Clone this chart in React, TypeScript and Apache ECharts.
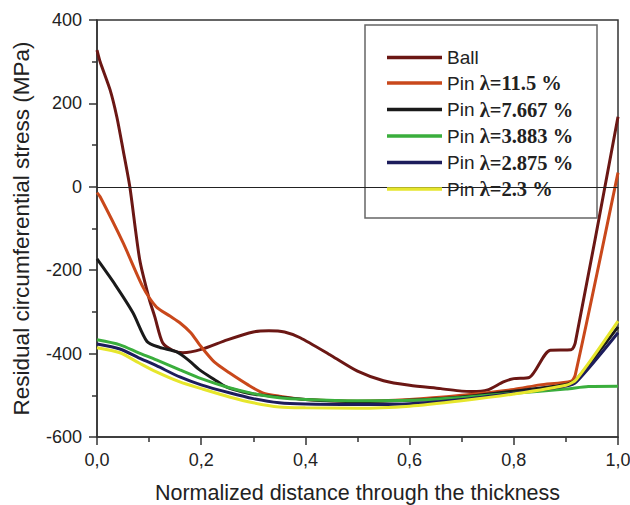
import React, { useEffect, useRef } from "react";
import * as echarts from "echarts";

const seriesNames = [
  "Ball",
  "Pin λ=11.5 %",
  "Pin λ=7.667 %",
  "Pin λ=3.883 %",
  "Pin λ=2.875 %",
  "Pin λ=2.3 %",
];

const seriesColors = ["#6b1714", "#c9481b", "#1a1a1a", "#3aae3c", "#1d1d5c", "#e6e62c"];

const ball: number[][] = [
  [0, 328], [0.006, 300], [0.025, 233], [0.038, 168], [0.05, 89], [0.063, 0],
  [0.082, -175], [0.1, -268], [0.111, -312], [0.126, -374], [0.145, -392],
  [0.165, -398], [0.2, -390], [0.25, -367], [0.3, -348], [0.33, -345],
  [0.36, -348], [0.39, -362], [0.45, -405], [0.5, -442], [0.55, -465],
  [0.6, -476], [0.66, -484], [0.7, -490], [0.72, -491], [0.75, -487],
  [0.78, -468], [0.8, -460], [0.83, -457], [0.87, -392], [0.91, -391],
  [0.918, -374], [1.0, 168],
];

const pin115: number[][] = [
  [0, -14], [0.006, -24], [0.05, -134], [0.088, -240], [0.114, -288],
  [0.14, -310], [0.159, -326], [0.18, -350], [0.197, -379], [0.225, -420],
  [0.254, -446], [0.29, -475], [0.318, -494], [0.35, -502], [0.4, -510],
  [0.5, -514], [0.6, -510], [0.7, -500], [0.8, -486], [0.85, -475],
  [0.91, -466], [0.918, -451], [1.0, 34],
];

const pin7667: number[][] = [
  [0, -173], [0.035, -235], [0.069, -302], [0.096, -371], [0.12, -385],
  [0.153, -396], [0.175, -415], [0.197, -439], [0.225, -462], [0.248, -480],
  [0.28, -492], [0.312, -499], [0.4, -510], [0.5, -515], [0.6, -512],
  [0.7, -504], [0.8, -490], [0.9, -474], [0.92, -462], [1.0, -336],
];

const pin3883: number[][] = [
  [0, -367], [0.044, -379], [0.08, -398], [0.114, -415], [0.159, -439],
  [0.2, -460], [0.254, -482], [0.3, -496], [0.35, -506], [0.4, -510],
  [0.5, -513], [0.6, -512], [0.7, -505], [0.8, -495], [0.9, -485],
  [0.943, -479], [1.0, -478],
];

const pin2875: number[][] = [
  [0, -377], [0.044, -389], [0.08, -410], [0.114, -429], [0.159, -456],
  [0.2, -475], [0.254, -494], [0.3, -508], [0.35, -518], [0.4, -521],
  [0.5, -522], [0.6, -520], [0.7, -510], [0.8, -495], [0.9, -478],
  [0.92, -468], [1.0, -350],
];

const pin23: number[][] = [
  [0, -386], [0.044, -398], [0.08, -422], [0.114, -444], [0.159, -468],
  [0.2, -484], [0.254, -504], [0.3, -518], [0.35, -528], [0.4, -530],
  [0.5, -531], [0.6, -526], [0.7, -513], [0.8, -497], [0.9, -476],
  [0.92, -462], [1.0, -322],
];

const seriesData = [ball, pin115, pin7667, pin3883, pin2875, pin23];

const xAxisTitle = "Normalized distance through the thickness";
const yAxisTitle = "Residual circumferential stress (MPa)";

export default function App() {
  const ref = useRef<HTMLDivElement>(null);

  useEffect(() => {
    if (!ref.current) return;
    const chart = echarts.init(ref.current, undefined, { renderer: "svg" });
    const axisColor = "#333";
    const textColor = "#222";
    const sans = "'Liberation Sans', Arial, sans-serif";

    const series: any[] = seriesNames.map((name, i) => ({
      name,
      type: "line",
      data: seriesData[i],
      symbol: "none",
      smooth: 0.25,
      lineStyle: { color: seriesColors[i], width: 3 },
      itemStyle: { color: seriesColors[i] },
      z: 2,
    }));
    series[0].markLine = {
      silent: true,
      symbol: "none",
      label: { show: false },
      lineStyle: { color: "#222", width: 1.2, type: "solid" },
      data: [{ yAxis: 0 }],
    };

    chart.setOption({
      animation: false,
      backgroundColor: "#fff",
      grid: {
        left: 97,
        right: 12,
        top: 20,
        bottom: 68,
        outerBoundsMode: "none",
        containLabel: false,
        show: true,
        borderColor: axisColor,
        borderWidth: 1.5,
        backgroundColor: "transparent",
      },
      xAxis: {
        type: "value",
        min: 0,
        max: 1,
        interval: 0.2,
        name: xAxisTitle,
        nameLocation: "middle",
        nameGap: 45,
        nameMoveOverlap: false,
        nameTextStyle: { fontFamily: sans, fontSize: 21.5, color: textColor },
        axisLine: { show: true, onZero: false, lineStyle: { color: axisColor, width: 1.5 } },
        axisTick: { show: true, inside: false, length: 8, lineStyle: { color: axisColor, width: 1.5 } },
        minorTick: { show: true, splitNumber: 2, length: 5, lineStyle: { color: axisColor, width: 1.5 } },
        splitLine: { show: false },
        axisLabel: {
          fontFamily: sans,
          fontSize: 18,
          color: textColor,
          margin: 14,
          formatter: (v: number) => v.toFixed(1).replace(".", ","),
        },
      },
      yAxis: {
        type: "value",
        min: -600,
        max: 400,
        interval: 200,
        name: yAxisTitle,
        nameLocation: "middle",
        nameGap: 64,
        nameMoveOverlap: false,
        nameTextStyle: { fontFamily: sans, fontSize: 22.5, color: textColor },
        axisLine: { show: true, onZero: false, lineStyle: { color: axisColor, width: 1.5 } },
        axisTick: { show: true, inside: false, length: 8, lineStyle: { color: axisColor, width: 1.5 } },
        minorTick: { show: true, splitNumber: 2, length: 5, lineStyle: { color: axisColor, width: 1.5 } },
        splitLine: { show: false },
        axisLabel: { fontFamily: sans, fontSize: 18, color: textColor, margin: 15 },
      },
      legend: {
        orient: "vertical",
        left: 365,
        top: 25,
        padding: [23, 10, 23, 22],
        icon: "rect",
        itemWidth: 55,
        itemHeight: 3.5,
        itemGap: 5.5,
        z: 10,
        data: seriesNames,
        formatter: (name: string) =>
          name.startsWith("Pin ")
            ? `{a|Pin }{b|${name.slice(4)}}`
            : `{a|${name}}`,
        textStyle: {
          color: textColor,
          rich: {
            a: { fontFamily: sans, fontSize: 19, color: textColor, lineHeight: 20 },
            b: {
              fontFamily: "'Liberation Serif', 'Times New Roman', serif",
              fontWeight: "bold",
              fontSize: 20.5,
              color: textColor,
              lineHeight: 20,
            },
          },
        },
      },
      graphic: [
        {
          type: "rect",
          shape: { x: 365, y: 25, width: 232, height: 193 },
          style: { fill: "#fff", stroke: "#666", lineWidth: 1.5 },
          z: 5,
          silent: true,
        },
      ],
      series,
    });

    return () => chart.dispose();
  }, []);

  return (
    <div
      ref={ref}
      style={{ position: "absolute", left: 0, top: 0, width: 630, height: 505 }}
    />
  );
}
